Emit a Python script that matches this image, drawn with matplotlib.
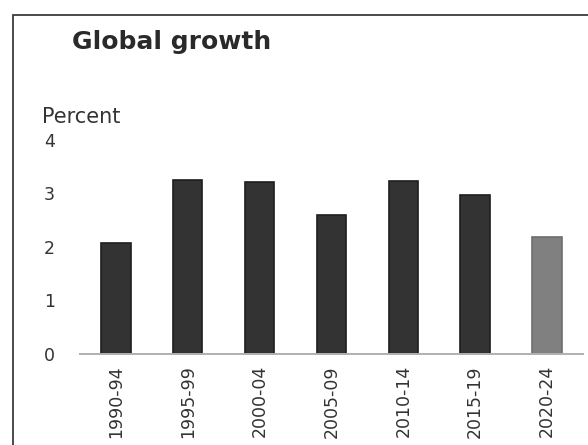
import numpy as np
import matplotlib
matplotlib.use('Agg')
import matplotlib.pyplot as plt
from matplotlib.patches import Rectangle

periods = ['1990-94', '1995-99', '2000-04', '2005-09', '2010-14', '2015-19', '2020-24']
growth = [2.08, 3.26, 3.21, 2.60, 3.24, 2.98, 2.18]
bar_colors = ['#333333'] * 6 + ['#808080']
edge_colors = ['#1e1e1e'] * 6 + ['#6e6e6e']

plt.rcParams['font.family'] = 'DejaVu Sans'

fig = plt.figure(figsize=(5.88, 4.45), dpi=100)
ax = fig.add_axes([0.136, 0.2045, 0.8555, 0.481])

x = np.arange(len(periods))
ax.bar(x, growth, width=0.41, color=bar_colors, edgecolor=edge_colors, linewidth=1.2, zorder=2)

ax.set_xlim(-0.5, len(periods) - 0.5)
ax.set_ylim(0, 4)
ax.set_yticks([0, 1, 2, 3, 4])
ax.set_xticks(x)
ax.set_xticklabels(periods, rotation=90, fontsize=12.5, color='#333333')
ax.tick_params(axis='y', length=0, pad=18, labelsize=12.5, labelcolor='#333333')
ax.tick_params(axis='x', length=0, pad=8)

for s in ['top', 'right', 'left']:
    ax.spines[s].set_visible(False)
ax.spines['bottom'].set_color('#b0b0b0')
ax.spines['bottom'].set_linewidth(1.4)

fig.text(0.1224, 0.889, 'Global growth', fontsize=18, fontweight='bold',
         color='#2a2a2a', ha='left', va='baseline')
fig.text(0.0714, 0.7243, 'Percent', fontsize=15, color='#333333',
         ha='left', va='baseline')

# outer frame, running off the right and bottom edges
fig.patches.append(Rectangle((13 / 588, -0.05), 1.2, 0.05 + 1 - 15 / 445,
                             transform=fig.transFigure, fill=False,
                             edgecolor='#3c3c3c', linewidth=1.3))

fig.savefig('out.png', dpi=100)
